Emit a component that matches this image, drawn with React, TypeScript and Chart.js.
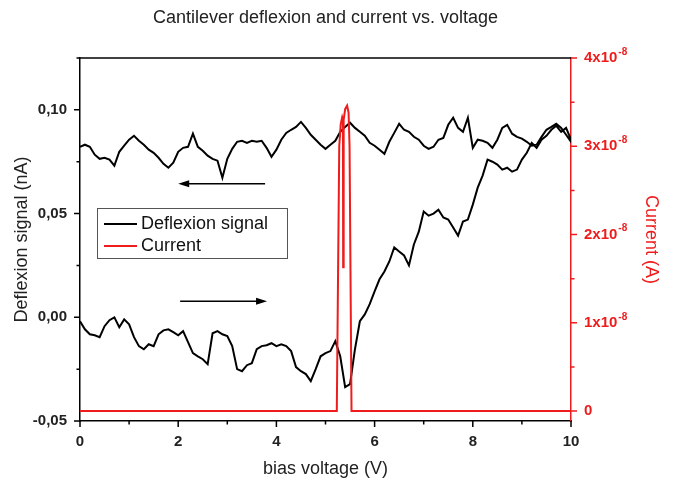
import React, { useEffect, useRef } from "react";
import { Chart, registerables } from "chart.js";

Chart.register(...registerables);

const TITLE = "Cantilever deflexion and current vs. voltage";
const X_TITLE = "bias voltage (V)";
const Y_TITLE = "Deflexion signal (nA)";
const Y2_TITLE = "Current (A)";
const SERIES_NAMES = ["Deflexion signal", "Current"];

// bias voltage sampling (V)
const voltages = [
  0, 0.1, 0.2, 0.3, 0.4, 0.5, 0.6, 0.7, 0.8, 0.9,
  1, 1.1, 1.2, 1.3, 1.4, 1.5, 1.6, 1.7, 1.8, 1.9,
  2, 2.1, 2.2, 2.3, 2.4, 2.5, 2.6, 2.7, 2.8, 2.9,
  3, 3.1, 3.2, 3.3, 3.4, 3.5, 3.6, 3.7, 3.8, 3.9,
  4, 4.1, 4.2, 4.3, 4.4, 4.5, 4.6, 4.7, 4.8, 4.9,
  5, 5.1, 5.2, 5.3, 5.4, 5.5, 5.6, 5.7, 5.8, 5.9,
  6, 6.1, 6.2, 6.3, 6.4, 6.5, 6.6, 6.7, 6.8, 6.9,
  7, 7.1, 7.2, 7.3, 7.4, 7.5, 7.6, 7.7, 7.8, 7.9,
  8, 8.1, 8.2, 8.3, 8.4, 8.5, 8.6, 8.7, 8.8, 8.9,
  9, 9.1, 9.2, 9.3, 9.4, 9.5, 9.6, 9.7, 9.8, 9.9,
  10,
];

// deflexion signal, forward sweep 0 -> 10 V (nA)
const forwardSignal = [
  -0.0019, -0.0058, -0.0082, -0.0087, -0.0096, -0.0043, -0.0014, 0.0, -0.0048, -0.001,
  -0.0034, -0.0096, -0.0139, -0.0154, -0.013, -0.0139, -0.0082, -0.0063, -0.0058, -0.0072,
  -0.0087, -0.0067, -0.012, -0.0173, -0.0188, -0.0202, -0.0226, -0.0077, -0.0067, -0.0082,
  -0.0091, -0.0139, -0.025, -0.026, -0.0231, -0.0221, -0.0154, -0.0139, -0.0135, -0.0125,
  -0.0139, -0.013, -0.0139, -0.0163, -0.024, -0.026, -0.0274, -0.0308, -0.025, -0.0188,
  -0.0173, -0.0163, -0.0115, -0.0188, -0.0337, -0.0322, -0.0154, -0.0019, 0.0014, 0.0063,
  0.0125, 0.0183, 0.0221, 0.0269, 0.0337, 0.0317, 0.0298, 0.025, 0.0351, 0.0413,
  0.051, 0.049, 0.05, 0.0519, 0.0481, 0.0471, 0.0433, 0.0394, 0.0462, 0.0471,
  0.0543, 0.0625, 0.0683, 0.076, 0.075, 0.0736, 0.0712, 0.0721, 0.0702, 0.0712,
  0.076, 0.0793, 0.0841, 0.0817, 0.0856, 0.0875, 0.0904, 0.0923, 0.0894, 0.0913,
  0.0856,
];

// deflexion signal, backward sweep (listed by ascending voltage) (nA)
const backwardSignal = [
  0.0822, 0.0832, 0.0822, 0.0784, 0.0764, 0.0769, 0.076, 0.0731, 0.0798, 0.0827,
  0.0856, 0.0875, 0.0851, 0.0832, 0.0808, 0.0793, 0.0769, 0.074, 0.0721, 0.0745,
  0.0798, 0.0817, 0.0822, 0.0885, 0.0822, 0.0803, 0.0779, 0.0764, 0.0755, 0.0673,
  0.0764, 0.0812, 0.0846, 0.0851, 0.0841, 0.0851, 0.0846, 0.0851, 0.0817, 0.0774,
  0.0808, 0.0856, 0.0889, 0.0904, 0.0918, 0.0942, 0.0913, 0.088, 0.0856, 0.0832,
  0.0812, 0.0832, 0.0851, 0.0894, 0.0918, 0.0938, 0.0913, 0.0894, 0.0875, 0.0841,
  0.0827, 0.0808, 0.0788, 0.0846, 0.0889, 0.0933, 0.0904, 0.0894, 0.087, 0.0856,
  0.0827, 0.0812, 0.0822, 0.0856, 0.0865, 0.0928, 0.0962, 0.0913, 0.0894, 0.0962,
  0.0817, 0.0856, 0.0851, 0.0841, 0.0817, 0.0856, 0.0913, 0.0928, 0.0885, 0.087,
  0.0861, 0.0846, 0.0827, 0.0832, 0.087, 0.0904, 0.0918, 0.0933, 0.0913, 0.088,
  0.0846,
];

// current (A)
const currentVoltages = [0, 5.23, 5.25, 5.28, 5.31, 5.34, 5.355, 5.36, 5.37, 5.4, 5.44, 5.47, 5.49, 5.51, 5.53, 10];
const currentValues = [0, 0, 1.2e-8, 3.0e-8, 3.25e-8, 3.33e-8, 3.3e-8, 1.63e-8, 3.3e-8, 3.42e-8, 3.46e-8, 3.38e-8, 3.0e-8, 1.5e-8, 0, 0];

// axis ticks
const xTickValues = [0, 1, 2, 3, 4, 5, 6, 7, 8, 9, 10];
const xTickLabels = ["0", "", "2", "", "4", "", "6", "", "8", "", "10"];
const yTickValues = [-0.05, -0.025, 0, 0.025, 0.05, 0.075, 0.1, 0.125];
const yTickLabels = ["-0,05", "", "0,00", "", "0,05", "", "0,10", ""];
const y2TickValues = [0, 0.5e-8, 1e-8, 1.5e-8, 2e-8, 2.5e-8, 3e-8, 3.5e-8, 4e-8];
const y2TickBase = ["0", "", "1x10", "", "2x10", "", "3x10", "", "4x10"];
const y2TickExp = ["", "", "-8", "", "-8", "", "-8", "", "-8"];

// sweep-direction arrows (data coordinates)
const arrowTailV = [3.77, 2.04];
const arrowTipV = [2.0, 3.81];
const arrowLevel = [0.0644, 0.0077];

const FONT = "'Liberation Sans', Arial, Helvetica, sans-serif";
const RED = "#ee1c1c";
const TEXT = "#222222";
const MAJOR_TICK = 6;
const MINOR_TICK = 3.5;

function labelFor(values: number[], labels: string[], v: number) {
  for (let i = 0; i < values.length; i++) {
    if (Math.abs(values[i] - v) < Math.abs(values[1] - values[0]) * 0.01) return labels[i];
  }
  return "";
}

const overlayPlugin = {
  id: "overlay",
  afterDatasetsDraw(chart: any) {
    const { ctx, chartArea } = chart;
    const { left, right, top, bottom } = chartArea;
    const xs = chart.scales.x;
    const ys = chart.scales.y;
    const y2 = chart.scales.y1;
    ctx.save();
    // top frame
    ctx.strokeStyle = "#000";
    ctx.lineWidth = 1.5;
    ctx.beginPath();
    ctx.moveTo(left, top);
    ctx.lineTo(right, top);
    ctx.stroke();

    // tick marks (major longer, minor shorter)
    ctx.lineWidth = 1.5;
    ctx.strokeStyle = "#000";
    ctx.beginPath();
    xTickValues.forEach((v, i) => {
      const px = xs.getPixelForValue(v);
      const len = xTickLabels[i] ? MAJOR_TICK : MINOR_TICK;
      ctx.moveTo(px, bottom);
      ctx.lineTo(px, bottom + len);
    });
    yTickValues.forEach((v, i) => {
      const py = ys.getPixelForValue(v);
      const len = yTickLabels[i] ? MAJOR_TICK : MINOR_TICK;
      ctx.moveTo(left - len, py);
      ctx.lineTo(left, py);
    });
    ctx.stroke();
    ctx.strokeStyle = RED;
    ctx.beginPath();
    y2TickValues.forEach((v, i) => {
      const py = y2.getPixelForValue(v);
      const len = y2TickBase[i] ? MAJOR_TICK : MINOR_TICK;
      ctx.moveTo(right, py);
      ctx.lineTo(right + len, py);
    });
    ctx.stroke();

    // arrows
    for (let i = 0; i < arrowTailV.length; i++) {
      const x0 = xs.getPixelForValue(arrowTailV[i]);
      const x1 = xs.getPixelForValue(arrowTipV[i]);
      const y = ys.getPixelForValue(arrowLevel[i]);
      const dir = x1 > x0 ? 1 : -1;
      ctx.strokeStyle = "#000";
      ctx.fillStyle = "#000";
      ctx.lineWidth = 1.6;
      ctx.beginPath();
      ctx.moveTo(x0, y);
      ctx.lineTo(x1 - dir * 8, y);
      ctx.stroke();
      ctx.beginPath();
      ctx.moveTo(x1, y);
      ctx.lineTo(x1 - dir * 11, y - 3.5);
      ctx.lineTo(x1 - dir * 11, y + 3.5);
      ctx.closePath();
      ctx.fill();
    }

    // right axis tick labels with superscript exponent
    ctx.fillStyle = RED;
    ctx.textAlign = "left";
    ctx.textBaseline = "middle";
    for (let i = 0; i < y2TickValues.length; i++) {
      if (!y2TickBase[i]) continue;
      const py = y2.getPixelForValue(y2TickValues[i]);
      const px = right + 13;
      ctx.font = `bold 15px ${FONT}`;
      ctx.fillText(y2TickBase[i], px, py);
      const w = ctx.measureText(y2TickBase[i]).width;
      if (y2TickExp[i]) {
        ctx.font = `bold 10px ${FONT}`;
        ctx.fillText(y2TickExp[i], px + w + 1, py - 6);
      }
    }

    // legend
    const lx = left + 17;
    const ly = top + 150;
    const lw = 190;
    const lh = 50;
    ctx.fillStyle = "#fff";
    ctx.fillRect(lx, ly, lw, lh);
    ctx.strokeStyle = "#555";
    ctx.lineWidth = 1;
    ctx.strokeRect(lx + 0.5, ly + 0.5, lw, lh);
    const colors = ["#000", RED];
    const rows = [ly + 16, ly + 38];
    ctx.font = `18px ${FONT}`;
    ctx.textBaseline = "middle";
    ctx.textAlign = "left";
    for (let i = 0; i < SERIES_NAMES.length; i++) {
      ctx.strokeStyle = colors[i];
      ctx.lineWidth = 2;
      ctx.beginPath();
      ctx.moveTo(lx + 7, rows[i]);
      ctx.lineTo(lx + 40, rows[i]);
      ctx.stroke();
      ctx.fillStyle = "#111";
      ctx.fillText(SERIES_NAMES[i], lx + 44, rows[i]);
    }
    ctx.restore();
  },
};

export default function App() {
  const ref = useRef<HTMLCanvasElement | null>(null);

  useEffect(() => {
    if (!ref.current) return;
    Chart.defaults.font.family = FONT;
    const deflexion = [
      ...voltages.map((v, i) => ({ x: v, y: forwardSignal[i] })),
      ...voltages
        .map((v, i) => ({ x: v, y: backwardSignal[i] }))
        .reverse(),
    ];
    const current = currentVoltages.map((v, i) => ({ x: v, y: currentValues[i] }));

    const tickFont = { family: FONT, size: 15, weight: "bold" as const };
    const titleFont = { family: FONT, size: 18 };
    const noGrid = { display: true, drawOnChartArea: false, drawTicks: false };

    const chart = new Chart(ref.current, {
      type: "line",
      data: {
        datasets: [
          {
            label: SERIES_NAMES[0],
            data: deflexion,
            yAxisID: "y",
            borderColor: "#000",
            borderWidth: 2,
            pointRadius: 0,
            tension: 0,
            order: 1,
          },
          {
            label: SERIES_NAMES[1],
            data: current,
            yAxisID: "y1",
            borderColor: RED,
            borderWidth: 2,
            pointRadius: 0,
            tension: 0,
            order: 0,
          },
        ],
      },
      options: {
        responsive: false,
        animation: false,
        layout: { padding: 0 },
        plugins: {
          legend: { display: false },
          tooltip: { enabled: false },
          title: {
            display: true,
            fullSize: false,
            text: TITLE,
            color: TEXT,
            font: { family: FONT, size: 18, weight: "normal" },
            padding: { top: 7.5, bottom: 28.9 },
          },
        },
        scales: {
          x: {
            type: "linear",
            position: "bottom",
            min: 0,
            max: 10,
            afterBuildTicks: (s: any) => {
              s.ticks = xTickValues.map((v) => ({ value: v }));
            },
            afterFit: (s: any) => {
              s.height = 60;
            },
            ticks: {
              autoSkip: false,
              maxRotation: 0,
              padding: 12,
              color: TEXT,
              font: tickFont,
              callback: (v: any) => labelFor(xTickValues, xTickLabels, Number(v)),
            },
            grid: noGrid,
            border: { display: true, color: "#000", width: 1.5 },
            title: {
              display: true,
              text: X_TITLE,
              color: TEXT,
              font: titleFont,
              padding: { top: 1, bottom: 1 },
            },
          },
          y: {
            type: "linear",
            position: "left",
            min: -0.05,
            max: 0.125,
            afterBuildTicks: (s: any) => {
              s.ticks = yTickValues.map((v) => ({ value: v }));
            },
            afterFit: (s: any) => {
              s.width = 80;
            },
            ticks: {
              autoSkip: false,
              padding: 13,
              color: TEXT,
              font: tickFont,
              callback: (v: any) => labelFor(yTickValues, yTickLabels, Number(v)),
            },
            grid: noGrid,
            border: { display: true, color: "#000", width: 1.5 },
            title: {
              display: true,
              text: Y_TITLE,
              color: TEXT,
              font: titleFont,
              padding: { top: 11, bottom: 0 },
            },
          },
          y1: {
            type: "linear",
            position: "right",
            min: -1.133e-9,
            max: 4e-8,
            afterBuildTicks: (s: any) => {
              s.ticks = y2TickValues.map((v) => ({ value: v }));
            },
            afterFit: (s: any) => {
              s.width = 105;
            },
            ticks: {
              autoSkip: false,
              padding: 8,
              color: RED,
              font: tickFont,
              callback: () => "",
            },
            grid: noGrid,
            border: { display: true, color: RED, width: 1.5 },
            title: {
              display: true,
              text: Y2_TITLE,
              color: RED,
              font: titleFont,
              padding: { top: 14, bottom: 0 },
            },
          },
        },
      },
      plugins: [overlayPlugin],
    } as any);

    return () => chart.destroy();
  }, []);

  return (
    <div style={{ position: "absolute", left: 0, top: 0, width: 676, height: 481, background: "#fff" }}>
      <canvas ref={ref} width={676} height={481} />
    </div>
  );
}
